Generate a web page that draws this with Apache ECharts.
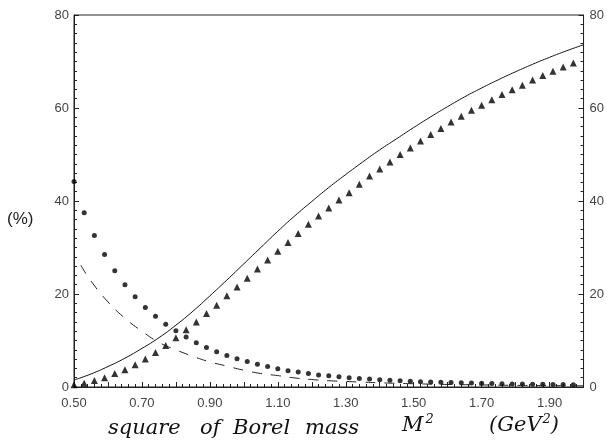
<!DOCTYPE html>
<html>
<head>
<meta charset="utf-8">
<script src="https://cdn.jsdelivr.net/npm/echarts@6/dist/echarts.min.js"></script>
<style>
  html, body { margin: 0; padding: 0; background: #fff; }
  #chart { width: 607px; height: 446px; }
</style>
</head>
<body>
<div id="chart"></div>
<script>
// x positions of the markers (M^2 in GeV^2)
const markerX = [0.50, 0.53, 0.56, 0.59, 0.62, 0.65, 0.68, 0.71, 0.74, 0.77,
  0.80, 0.83, 0.86, 0.89, 0.92, 0.95, 0.98, 1.01, 1.04, 1.07,
  1.10, 1.13, 1.16, 1.19, 1.22, 1.25, 1.28, 1.31, 1.34, 1.37,
  1.40, 1.43, 1.46, 1.49, 1.52, 1.55, 1.58, 1.61, 1.64, 1.67,
  1.70, 1.73, 1.76, 1.79, 1.82, 1.85, 1.88, 1.91, 1.94, 1.97];

// filled circles (decreasing)
const circleY = [44.2, 37.5, 32.6, 28.5, 25.0, 22.0, 19.4, 17.1, 15.2, 13.5,
  12.1, 10.75, 9.5, 8.5, 7.6, 6.8, 6.1, 5.5, 4.9, 4.4,
  3.9, 3.5, 3.2, 2.9, 2.6, 2.4, 2.2, 2.0, 1.85, 1.7,
  1.55, 1.45, 1.35, 1.25, 1.15, 1.1, 1.0, 0.95, 0.9, 0.85,
  0.8, 0.75, 0.7, 0.67, 0.64, 0.6, 0.58, 0.55, 0.52, 0.5];

// filled triangles (increasing)
const triangleY = [0.5, 0.8, 1.4, 2.0, 2.9, 3.7, 4.8, 6.0, 7.4, 8.9,
  10.6, 12.3, 14.0, 15.8, 17.6, 19.6, 21.5, 23.4, 25.4, 27.3,
  29.2, 31.1, 33.0, 35.0, 36.8, 38.5, 40.2, 41.8, 43.6, 45.4,
  46.9, 48.4, 50.0, 51.4, 52.9, 54.3, 55.6, 57.0, 58.2, 59.5,
  60.6, 61.8, 62.9, 63.9, 64.9, 66.0, 67.0, 67.9, 68.8, 69.7];

// solid curve
const solidX = [0.50, 0.55, 0.60, 0.65, 0.70, 0.75, 0.80, 0.85, 0.90, 0.95,
  1.00, 1.05, 1.10, 1.15, 1.20, 1.25, 1.30, 1.35, 1.40, 1.45,
  1.50, 1.55, 1.60, 1.65, 1.70, 1.75, 1.80, 1.85, 1.90, 1.95, 2.00];
const solidY = [1.5, 2.8, 4.4, 6.2, 8.3, 10.6, 13.3, 16.3, 19.6, 23.0,
  26.5, 30.0, 33.5, 36.8, 39.9, 42.9, 45.7, 48.4, 51.0, 53.4,
  55.8, 58.1, 60.3, 62.4, 64.3, 66.1, 67.8, 69.4, 70.9, 72.3, 73.6];

// dashed curve
const dashX = [0.52, 0.55, 0.60, 0.65, 0.70, 0.75, 0.80, 0.85, 0.90, 0.95,
  1.00, 1.05, 1.10, 1.15, 1.20, 1.25, 1.30, 1.35, 1.40, 1.50,
  1.60, 1.70, 1.80, 1.90, 2.00];
const dashY = [26.2, 22.8, 18.3, 14.8, 12.0, 9.6, 8.0, 6.6, 5.4, 4.5,
  3.6, 2.9, 2.45, 1.95, 1.6, 1.35, 1.2, 1.05, 0.9, 0.7,
  0.55, 0.45, 0.35, 0.3, 0.25];

const xLabels = ['0.50', '0.70', '0.90', '1.10', '1.30', '1.50', '1.70', '1.90'];

const pairs = (xs, ys) => xs.map((x, i) => [x, ys[i]]);

const chart = echarts.init(document.getElementById('chart'));

const labelFont = { color: '#444', fontFamily: 'Liberation Sans', fontSize: 13 };
const titleFont = { fontFamily: 'DejaVu Serif', fontStyle: 'italic', fontSize: 21, fill: '#111' };

// x-axis title words, placed as in the original
const titleWords = [['square', 108], ['of', 200], ['Borel', 233], ['mass', 305]];

const option = {
  animation: false,
  grid: { left: 74, right: 23, top: 15, bottom: 59, show: true, borderColor: '#222', borderWidth: 1 },
  xAxis: [{
    type: 'value', min: 0.5, max: 2.0, interval: 0.1,
    axisLine: { lineStyle: { color: '#222', width: 1 } },
    axisTick: { inside: true, length: 5, lineStyle: { color: '#222' } },
    minorTick: { show: true, splitNumber: 5, length: 3, lineStyle: { color: '#222' } },
    splitLine: { show: false },
    axisLabel: Object.assign({
      margin: 10,
      formatter: (v) => {
        const s = v.toFixed(2);
        return xLabels.indexOf(s) >= 0 ? s : '';
      }
    }, labelFont)
  }, {
    type: 'value', min: 0.5, max: 2.0, position: 'top',
    axisLine: { lineStyle: { color: '#222' } },
    axisTick: { show: false }, axisLabel: { show: false }, splitLine: { show: false }
  }],
  yAxis: [{
    type: 'value', min: 0, max: 80, interval: 20, position: 'left',
    axisLine: { show: true, lineStyle: { color: '#222' } },
    axisTick: { show: true, inside: true, length: 5, lineStyle: { color: '#222' } },
    minorTick: { show: true, splitNumber: 10, length: 3, lineStyle: { color: '#222' } },
    splitLine: { show: false },
    axisLabel: Object.assign({ margin: 5 }, labelFont)
  }, {
    type: 'value', min: 0, max: 80, interval: 20, position: 'right',
    axisLine: { show: true, lineStyle: { color: '#222' } },
    axisTick: { show: true, inside: true, length: 5, lineStyle: { color: '#222' } },
    minorTick: { show: true, splitNumber: 10, length: 3, lineStyle: { color: '#222' } },
    splitLine: { show: false },
    axisLabel: Object.assign({ margin: 6 }, labelFont)
  }],
  series: [
    {
      name: 'solid', type: 'line', smooth: true, showSymbol: false,
      data: pairs(solidX, solidY),
      lineStyle: { color: '#111', width: 1 }
    },
    {
      name: 'dashed', type: 'line', smooth: true, showSymbol: false,
      data: pairs(dashX, dashY),
      lineStyle: { color: '#222', width: 1, type: [10, 9] }
    },
    {
      name: 'circles', type: 'scatter', symbol: 'circle', symbolSize: 5,
      data: pairs(markerX, circleY),
      itemStyle: { color: '#000' }
    },
    {
      name: 'triangles', type: 'scatter', symbol: 'triangle', symbolSize: 7,
      data: pairs(markerX, triangleY),
      itemStyle: { color: '#000' }
    }
  ],
  graphic: [
    { type: 'text', left: 7, top: 211, style: { text: '(%)', fontSize: 17, fontFamily: 'Liberation Sans', fill: '#222' } }
  ].concat(titleWords.map(([w, x]) => ({
    type: 'text', left: x, top: 418, style: Object.assign({ text: w }, titleFont)
  }))).concat([
    {
      type: 'text', left: 402, top: 413,
      style: {
        text: '{b|M}{s|2}',
        rich: {
          b: Object.assign({ padding: [5, 0, 0, 0] }, titleFont),
          s: Object.assign({}, titleFont, { fontSize: 13, padding: [0, 0, 8, 2] })
        }
      }
    },
    {
      type: 'text', left: 489, top: 413,
      style: {
        text: '{b|(GeV}{s|2}{b|)}',
        rich: {
          b: Object.assign({ padding: [5, 0, 0, 0] }, titleFont),
          s: Object.assign({}, titleFont, { fontSize: 13, padding: [0, 0, 8, 1] })
        }
      }
    }
  ])
};

chart.setOption(option);
</script>
</body>
</html>
